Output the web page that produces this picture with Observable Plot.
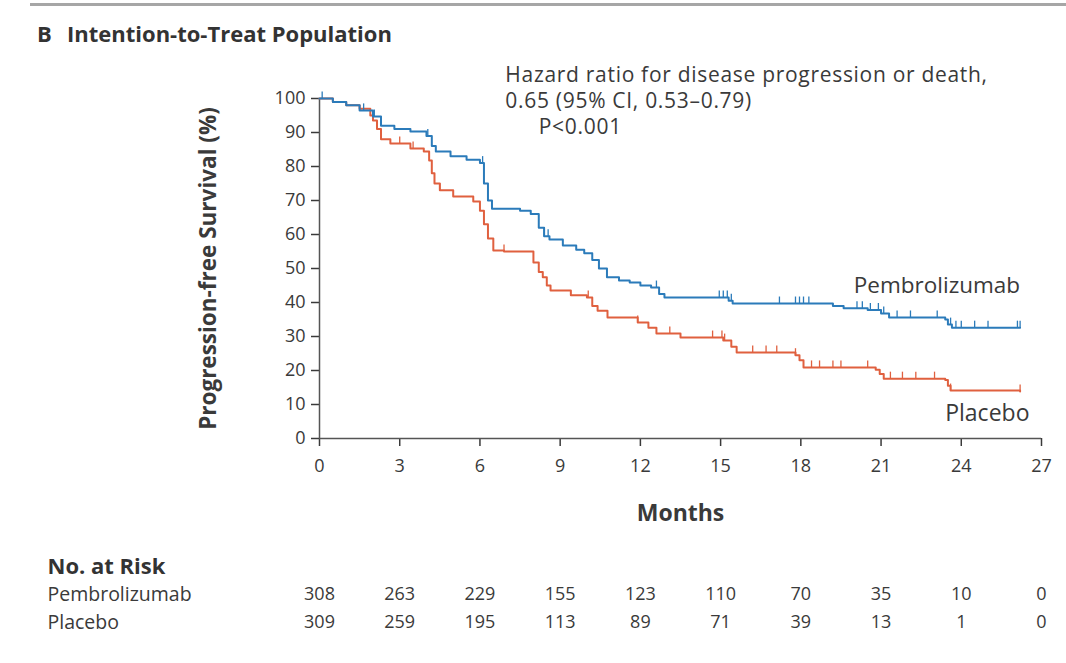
<!DOCTYPE html>
<html>
<head>
<meta charset="utf-8">
<script src="https://cdn.jsdelivr.net/npm/d3@7"></script>
<script src="https://cdn.jsdelivr.net/npm/@observablehq/plot@0.6"></script>
<style>
  html, body { margin: 0; padding: 0; background: #fff; }
  body { width: 1066px; height: 663px; overflow: hidden; font-family: "Open Sans", sans-serif; color: #3a3a3a; }
  #head { position: relative; height: 55px; }
  #rule { position: absolute; left: 30px; right: 0; top: 3px; height: 3px; background: #a6a6a6; }
  #title { position: absolute; top: 18px; left: 0; font-size: 22px; font-weight: 700; color: #333; white-space: nowrap; }
  #title .b { position: absolute; left: 37px; }
  #title .t { position: absolute; left: 67px; }
  svg { display: block; }
</style>
</head>
<body>
<div id="head"><div id="rule"></div><div id="title"><span class="b">B</span><span class="t">Intention-to-Treat Population</span></div></div>
<div id="chart"></div>
<div id="risk"></div>
<script>
// ---- Data ----
const monthTicks = [0, 3, 6, 9, 12, 15, 18, 21, 24, 27];
const survivalTicks = [0, 10, 20, 30, 40, 50, 60, 70, 80, 90, 100];

const pembroTime = [0, 0.5, 1.0, 1.5, 2.0, 2.3, 2.8, 3.4, 4.0, 4.2, 4.35, 4.9, 5.5, 6.0, 6.15, 6.3, 6.45, 7.5, 7.9, 8.2, 8.4, 8.6, 9.1, 9.6, 9.9, 10.2, 10.45, 10.75, 11.2, 11.6, 12.0, 12.4, 12.7, 12.9, 15.3, 15.45, 19.2, 19.6, 20.5, 21.0, 21.3, 23.4, 23.5, 23.65, 26.2];
const pembroSurv = [100, 99, 98, 96.5, 94.7, 92, 91, 90.3, 89, 86, 84.4, 83, 82, 81, 75, 70, 67.6, 67, 66, 62, 59.5, 58.5, 56.8, 55.5, 54.5, 52.5, 50, 47.4, 46.5, 45.9, 45, 44.4, 42.5, 41.5, 40.5, 39.7, 39.0, 38.3, 37.8, 36.8, 35.6, 35.0, 33.5, 32.6, 32.6];

const placeboTime = [0, 0.5, 1.0, 1.5, 1.9, 2.0, 2.15, 2.3, 2.65, 3.4, 3.9, 4.1, 4.2, 4.3, 4.5, 5.0, 5.75, 6.0, 6.15, 6.3, 6.5, 6.9, 8.0, 8.2, 8.35, 8.5, 8.64, 9.4, 10.0, 10.2, 10.4, 10.77, 11.9, 12.3, 12.6, 13.5, 15.1, 15.4, 15.6, 17.8, 17.95, 18.1, 20.8, 20.95, 21.1, 23.4, 23.5, 23.6, 26.2];
const placeboSurv = [100, 99, 98, 97, 95, 93.5, 91, 88, 86.8, 85.3, 84.4, 81.8, 78, 75, 73, 71.2, 69.7, 67, 63, 58.8, 55.3, 55, 51.8, 49, 47.4, 45, 43.5, 42.1, 41.5, 39, 37.6, 35.6, 34.1, 32.6, 30.9, 29.7, 28.8, 27, 25.3, 24.5, 23, 20.9, 20.2, 19, 17.6, 17.2, 15.5, 14.1, 13.8];

const pembroCensor = [0.1, 1.65, 2.05, 4.05, 6.1, 8.4, 8.55, 12.6, 14.95, 15.1, 15.25, 15.4, 17.2, 17.8, 17.95, 18.1, 18.3, 20.1, 20.3, 20.6, 20.9, 21.1, 21.6, 22.1, 23.1, 23.6, 23.8, 24.0, 24.5, 25.0, 26.1, 26.2];
const placeboCensor = [3.0, 3.5, 4.5, 6.9, 10.05, 11.9, 13.1, 14.7, 15.05, 15.15, 16.2, 16.7, 17.1, 17.8, 18.4, 18.7, 19.2, 19.5, 20.5, 21.35, 21.8, 22.3, 23.0, 23.6, 26.2];

const groups = ["Pembrolizumab", "Placebo"];
const pembroRisk = [308, 263, 229, 155, 123, 110, 70, 35, 10, 0];
const placeboRisk = [309, 259, 195, 113, 89, 71, 39, 13, 1, 0];

const annotLines = ["Hazard ratio for disease progression or death,", "0.65 (95% CI, 0.53\u20130.79)", "P<0.001"];

// ---- Build tables ----
const blue = "#2b7bba", red = "#e0603f", ink = "#3a3a3a";
const pembro = pembroTime.map((t, i) => ({t, s: pembroSurv[i]}));
const placebo = placeboTime.map((t, i) => ({t, s: placeboSurv[i]}));
function survAt(times, surv, t) {
  let v = surv[0];
  for (let i = 0; i < times.length; i++) if (times[i] <= t) v = surv[i];
  return v;
}
const pembroTicks = pembroCensor.map(t => ({t, s: survAt(pembroTime, pembroSurv, t)}));
const placeboTicksC = placeboCensor.map(t => ({t, s: survAt(placeboTime, placeboSurv, t)}));
const censorMark = {draw(ctx) { ctx.moveTo(0, 0); ctx.lineTo(0, -7); }};

const chart = Plot.plot({
  width: 1066, height: 480,
  marginLeft: 319, marginRight: 25, marginTop: 43, marginBottom: 97,
  style: {fontFamily: "Open Sans, sans-serif", fontSize: "18px", color: ink, background: "#fff", overflow: "visible"},
  x: {domain: [0, 27]},
  y: {domain: [0, 100]},
  marks: [
    Plot.axisX({ticks: monthTicks, tickSize: 8, tickPadding: 13, strokeWidth: 1.5, label: null, fontSize: 18}),
    Plot.axisY({ticks: survivalTicks, tickSize: 8, tickPadding: 6, strokeWidth: 1.5, fontSize: 18, label: null}),
    Plot.text(["Progression-free Survival (%)"], {frameAnchor: "left", dx: -111, text: d => d, rotate: -90, textAnchor: "middle", fontWeight: 700, fontSize: 22.5, fill: ink}),
    Plot.text(["Months"], {frameAnchor: "bottom", dy: 82, text: d => d, textAnchor: "middle", fontWeight: 700, fontSize: 23, fill: ink}),
    Plot.ruleX([0], {stroke: "#555", strokeWidth: 1.5}),
    Plot.ruleY([0], {stroke: "#555", strokeWidth: 1.5}),
    Plot.line(placebo, {x: "t", y: "s", curve: "step-after", stroke: red, strokeWidth: 2}),
    Plot.line(pembro, {x: "t", y: "s", curve: "step-after", stroke: blue, strokeWidth: 2}),
    Plot.dot(placeboTicksC, {x: "t", y: "s", symbol: censorMark, stroke: red, fill: "none", strokeWidth: 1.3}),
    Plot.dot(pembroTicks, {x: "t", y: "s", symbol: censorMark, stroke: blue, fill: "none", strokeWidth: 1.3}),
    Plot.text([annotLines[0]], {x: 6.95, y: 106.8, text: d => d, textAnchor: "start", fill: ink, fontSize: 21}),
    Plot.text([annotLines[1]], {x: 6.95, y: 99.2, text: d => d, textAnchor: "start", fill: ink, fontSize: 21}),
    Plot.text([annotLines[2]], {x: 8.2, y: 91.6, text: d => d, textAnchor: "start", fill: ink, fontSize: 21}),
    Plot.text([groups[0]], {x: 26.2, y: 45, text: d => d, textAnchor: "end", fill: ink, fontSize: 22.5}),
    Plot.text([groups[1]], {x: 26.55, y: 7.4, text: d => d, textAnchor: "end", fill: ink, fontSize: 23})
  ]
});
d3.select(chart).selectAll("text")
  .filter(function () { return annotLines.includes(this.textContent); })
  .style("letter-spacing", "0.7px");
document.getElementById("chart").appendChild(chart);

// ---- Risk table ----
const riskRows = [];
monthTicks.forEach((m, i) => {
  riskRows.push({m, g: groups[0], n: pembroRisk[i]});
  riskRows.push({m, g: groups[1], n: placeboRisk[i]});
});
const header = "No. at Risk";
const risk = Plot.plot({
  width: 1066, height: 128,
  marginLeft: 319, marginRight: 25, marginTop: 31, marginBottom: 41,
  style: {fontFamily: "Open Sans, sans-serif", fontSize: "18px", color: ink, background: "#fff", overflow: "visible"},
  x: {domain: [0, 27], axis: null},
  y: {type: "point", domain: [header, ...groups], padding: 0, axis: null},
  marks: [
    Plot.text([header], {y: d => d, text: d => d, frameAnchor: "left", dx: -272, textAnchor: "start", fontWeight: 700, fill: "#333", fontSize: 22}),
    Plot.text(groups, {y: d => d, text: d => d, frameAnchor: "left", dx: -272, textAnchor: "start", fill: ink, fontSize: 19.5}),
    Plot.text(riskRows, {x: "m", y: "g", text: "n", textAnchor: "middle", fill: ink, fontSize: 18})
  ]
});
document.getElementById("risk").appendChild(risk);
</script>
</body>
</html>
